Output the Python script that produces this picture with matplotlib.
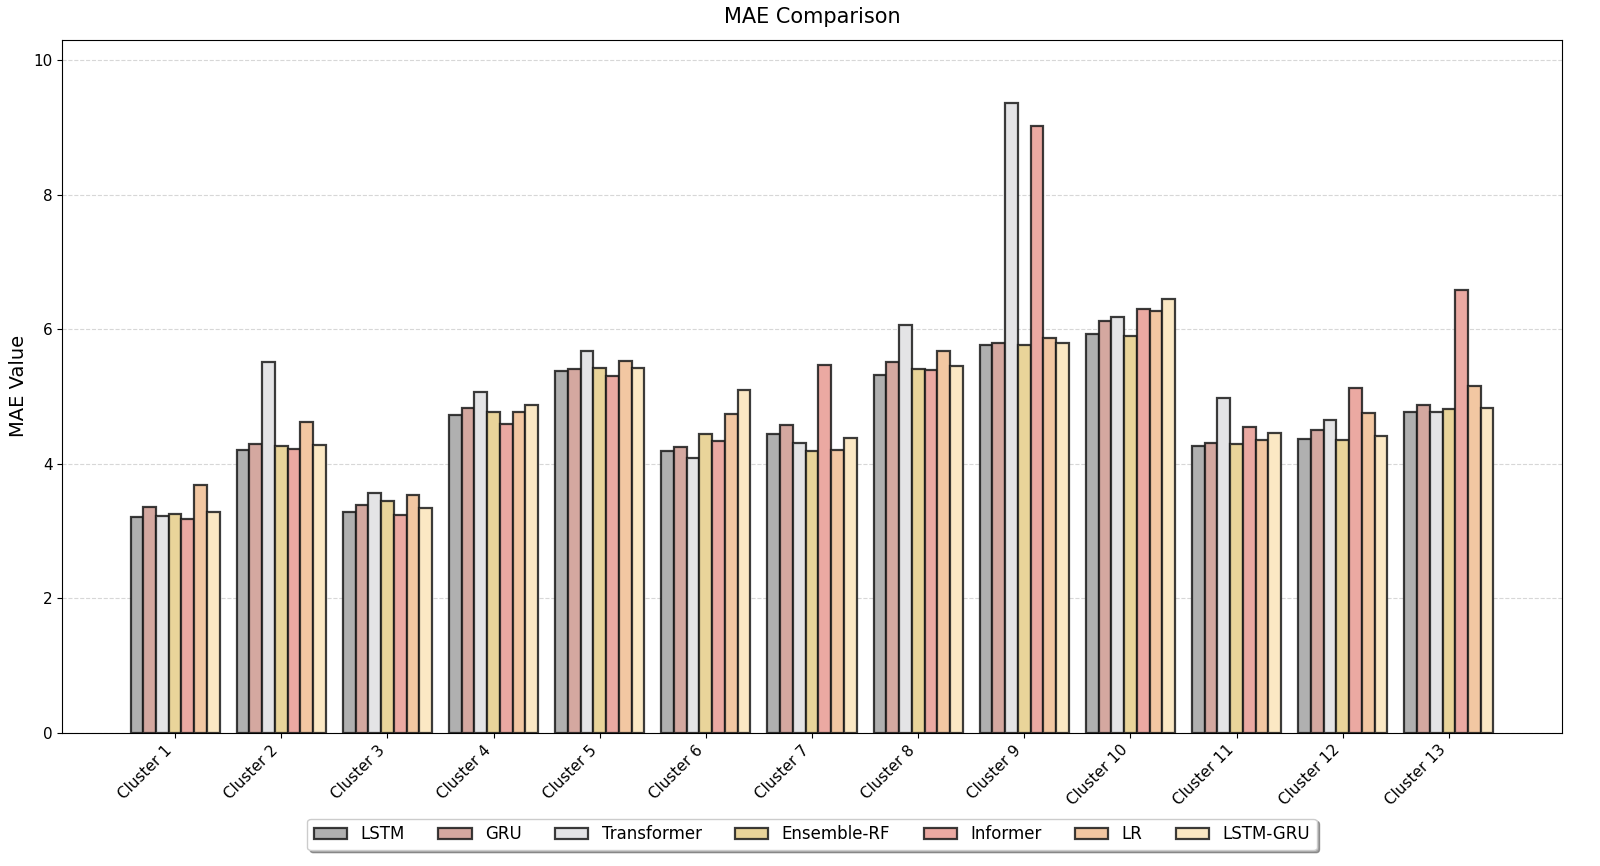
import numpy as np
import matplotlib.pyplot as plt

# =====================================================
# 数据
# =====================================================

clusters = [f"Cluster {i}" for i in range(1, 14)]

models = ["LSTM", "GRU", "Transformer", "Ensemble-RF", "Informer", "LR", "LSTM-GRU"]

lstm        = [3.21, 4.20, 3.28, 4.72, 5.38, 4.19, 4.44, 5.32, 5.77, 5.93, 4.26, 4.37, 4.77]
gru         = [3.36, 4.29, 3.39, 4.83, 5.41, 4.25, 4.58, 5.51, 5.79, 6.12, 4.31, 4.50, 4.87]
transformer = [3.22, 5.51, 3.57, 5.07, 5.68, 4.09, 4.31, 6.06, 9.37, 6.18, 4.98, 4.65, 4.77]
ensemble_rf = [3.25, 4.26, 3.45, 4.77, 5.42, 4.44, 4.19, 5.41, 5.77, 5.90, 4.29, 4.35, 4.81]
informer    = [3.18, 4.22, 3.24, 4.59, 5.30, 4.34, 5.47, 5.39, 9.03, 6.30, 4.55, 5.13, 6.58]
lr          = [3.68, 4.62, 3.54, 4.77, 5.53, 4.74, 4.20, 5.68, 5.87, 6.27, 4.35, 4.75, 5.16]
lstm_gru    = [3.28, 4.28, 3.34, 4.87, 5.42, 5.10, 4.38, 5.45, 5.79, 6.45, 4.46, 4.41, 4.83]

series = [lstm, gru, transformer, ensemble_rf, informer, lr, lstm_gru]

colors = ["#b0b0b0", "#d4a8a0", "#e4e4e6", "#e9d49a", "#eba9a2", "#f2c7a2", "#fbe8c4"]

# =====================================================
# 绘图
# =====================================================

fig, ax = plt.subplots(figsize=(16, 8.66), dpi=100)
fig.subplots_adjust(left=0.039, right=0.976, top=0.954, bottom=0.154)

x = np.arange(len(clusters))
width = 0.12

for i, (name, vals) in enumerate(zip(models, series)):
    offset = (i - (len(models) - 1) / 2) * width
    ax.bar(
        x + offset,
        vals,
        width,
        label=name,
        color=colors[i],
        edgecolor=(0.1, 0.1, 0.1, 0.85),
        linewidth=1.6,
    )

ax.set_xticks(x)
ax.set_xticklabels(clusters, rotation=45, ha="right", fontsize=11)
ax.tick_params(axis="y", labelsize=11)
ax.set_ylabel("MAE Value", fontsize=14)
ax.set_title("MAE Comparison", fontsize=15, pad=12)

ymax = max(max(s) for s in series)
ax.set_ylim(0, ymax * 1.1)

ax.grid(axis="y", linestyle="--", alpha=0.5)
ax.set_axisbelow(True)

ax.legend(
    loc="upper center",
    bbox_to_anchor=(0.5, -0.112),
    ncol=7,
    fontsize=12,
    shadow=True,
    fancybox=True,
)

plt.savefig("out.png", dpi=100)
